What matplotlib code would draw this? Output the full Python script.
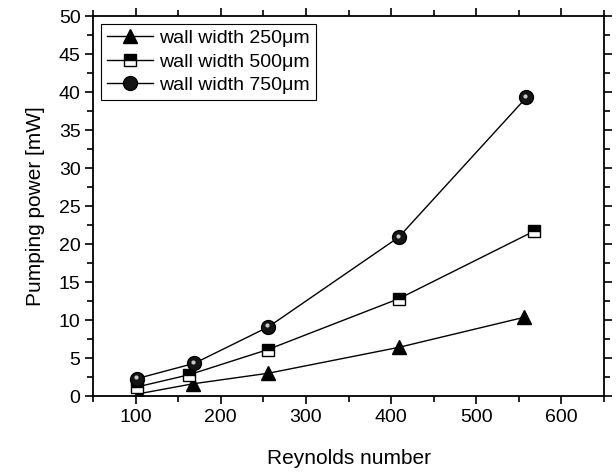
import matplotlib.pyplot as plt
from matplotlib.transforms import offset_copy
from matplotlib.ticker import MultipleLocator

plt.rcParams["font.family"] = ["Liberation Sans", "DejaVu Sans"]

re_250 = [104, 167, 256, 409, 556]
pp_250 = [0.3, 1.6, 3.0, 6.4, 10.35]
re_500 = [102, 163, 255, 409, 568]
pp_500 = [1.2, 2.8, 6.1, 12.8, 21.7]
re_750 = [102, 169, 256, 409, 559]
pp_750 = [2.3, 4.3, 9.1, 20.9, 39.3]
labels = ["wall width 250\u03bcm", "wall width 500\u03bcm", "wall width 750\u03bcm"]

fig = plt.figure(figsize=(6.16, 4.72), dpi=100)
ax = fig.add_axes([0.151, 0.161, 0.8295, 0.805])

ax.plot(re_250, pp_250, "k-", lw=1, marker="^", ms=10, mfc="black", mec="black", label=labels[0])
ax.plot(re_500, pp_500, "k-", lw=1, marker="s", ms=8, fillstyle="top",
        mfc="black", mfcalt="white", mec="black", label=labels[1])
ax.plot(re_750, pp_750, "k-", lw=1, marker="o", ms=10, mfc="#151515", mec="black", label=labels[2])
# highlight on the spheres
hl = offset_copy(ax.transData, fig=fig, x=-0.8, y=1.2, units="points")
ax.plot(re_750, pp_750, ls="none", marker="o", ms=3, mfc="#c8c8c8", mec="none", transform=hl)

ax.set_xlim(50, 650)
ax.set_ylim(0, 50)
ax.xaxis.set_major_locator(MultipleLocator(100))
ax.xaxis.set_minor_locator(MultipleLocator(50))
ax.yaxis.set_major_locator(MultipleLocator(5))
ax.yaxis.set_minor_locator(MultipleLocator(2.5))
ax.tick_params(which="both", direction="out", top=True, right=True, labelsize=14, width=1.2)
ax.tick_params(which="major", length=6, pad=3)
ax.tick_params(which="minor", length=4)
for s in ax.spines.values():
    s.set_linewidth(1.3)

ax.set_xlabel("Reynolds number", fontsize=15, labelpad=17)
ax.set_ylabel("Pumping power [mW]", fontsize=15, labelpad=10)

leg = ax.legend(loc="upper left", fontsize=14, fancybox=False, edgecolor="black",
                framealpha=1, handlelength=2.4, borderaxespad=0.4,
                labelspacing=0.3, handletextpad=0.3, borderpad=0.3)
leg.get_frame().set_linewidth(0.8)

fig.savefig("out.png", dpi=100)
